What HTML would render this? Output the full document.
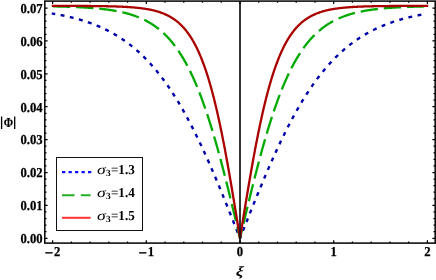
<!DOCTYPE html><html><head><meta charset="utf-8"><style>html,body{margin:0;padding:0;background:#fff}svg{will-change:transform;text-rendering:geometricPrecision}</style></head><body><svg width="436" height="280" viewBox="0 0 436 280" style="display:block">
<rect width="436" height="280" fill="#fff"/>
<g fill="none" stroke-linejoin="round">
<path d="M51.76,13.45 L52.38,13.56 L53.01,13.66 L53.64,13.76 L54.27,13.87 L54.89,13.98 L55.52,14.09 L56.15,14.20 L56.78,14.31 L57.40,14.43 L58.03,14.54 L58.66,14.66 L59.29,14.78 L59.91,14.90 L60.54,15.02 L61.17,15.14 L61.80,15.27 L62.42,15.40 L63.05,15.52 L63.68,15.65 L64.31,15.79 L64.93,15.92 L65.56,16.06 L66.19,16.19 L66.82,16.33 L67.44,16.47 L68.07,16.61 L68.70,16.76 L69.33,16.91 L69.95,17.05 L70.58,17.20 L71.21,17.36 L71.84,17.51 L72.46,17.67 L73.09,17.82 L73.72,17.98 L74.35,18.15 L74.97,18.31 L75.60,18.48 L76.23,18.65 L76.86,18.82 L77.48,18.99 L78.11,19.17 L78.74,19.34 L79.37,19.52 L79.99,19.71 L80.62,19.89 L81.25,20.08 L81.88,20.27 L82.50,20.46 L83.13,20.65 L83.76,20.85 L84.39,21.05 L85.01,21.25 L85.64,21.46 L86.27,21.66 L86.90,21.87 L87.52,22.09 L88.15,22.30 L88.78,22.52 L89.41,22.74 L90.03,22.96 L90.66,23.19 L91.29,23.42 L91.92,23.65 L92.54,23.89 L93.17,24.13 L93.80,24.37 L94.43,24.61 L95.05,24.86 L95.68,25.11 L96.31,25.36 L96.94,25.62 L97.56,25.88 L98.19,26.14 L98.82,26.41 L99.45,26.68 L100.07,26.95 L100.70,27.23 L101.33,27.51 L101.95,27.79 L102.58,28.08 L103.21,28.37 L103.84,28.67 L104.46,28.96 L105.09,29.27 L105.72,29.57 L106.35,29.88 L106.97,30.19 L107.60,30.51 L108.23,30.83 L108.86,31.16 L109.48,31.49 L110.11,31.82 L110.74,32.16 L111.37,32.50 L111.99,32.84 L112.62,33.19 L113.25,33.54 L113.88,33.90 L114.50,34.26 L115.13,34.63 L115.76,35.00 L116.39,35.38 L117.01,35.76 L117.64,36.14 L118.27,36.53 L118.90,36.92 L119.52,37.32 L120.15,37.73 L120.78,38.13 L121.41,38.55 L122.03,38.96 L122.66,39.39 L123.29,39.81 L123.92,40.25 L124.54,40.68 L125.17,41.13 L125.80,41.57 L126.43,42.03 L127.05,42.49 L127.68,42.95 L128.31,43.42 L128.94,43.89 L129.56,44.37 L130.19,44.86 L130.82,45.35 L131.45,45.84 L132.07,46.35 L132.70,46.85 L133.33,47.37 L133.96,47.89 L134.58,48.41 L135.21,48.94 L135.84,49.48 L136.47,50.02 L137.09,50.57 L137.72,51.13 L138.35,51.69 L138.98,52.26 L139.60,52.83 L140.23,53.41 L140.86,54.00 L141.49,54.59 L142.11,55.19 L142.74,55.79 L143.37,56.41 L144.00,57.02 L144.62,57.65 L145.25,58.28 L145.88,58.92 L146.51,59.57 L147.13,60.22 L147.76,60.88 L148.39,61.54 L149.02,62.22 L149.64,62.90 L150.27,63.58 L150.90,64.28 L151.53,64.98 L152.15,65.69 L152.78,66.40 L153.41,67.13 L154.04,67.86 L154.66,68.59 L155.29,69.34 L155.92,70.09 L156.55,70.85 L157.17,71.62 L157.80,72.39 L158.43,73.18 L159.06,73.97 L159.68,74.77 L160.31,75.57 L160.94,76.38 L161.57,77.21 L162.19,78.03 L162.82,78.87 L163.45,79.72 L164.08,80.57 L164.70,81.43 L165.33,82.30 L165.96,83.17 L166.59,84.06 L167.21,84.95 L167.84,85.85 L168.47,86.76 L169.10,87.68 L169.72,88.60 L170.35,89.54 L170.98,90.48 L171.60,91.43 L172.23,92.39 L172.86,93.35 L173.49,94.33 L174.11,95.31 L174.74,96.30 L175.37,97.30 L176.00,98.31 L176.62,99.32 L177.25,100.35 L177.88,101.38 L178.51,102.42 L179.13,103.47 L179.76,104.53 L180.39,105.59 L181.02,106.67 L181.64,107.75 L182.27,108.84 L182.90,109.94 L183.53,111.05 L184.15,112.16 L184.78,113.29 L185.41,114.42 L186.04,115.56 L186.66,116.71 L187.29,117.87 L187.92,119.03 L188.55,120.21 L189.17,121.39 L189.80,122.58 L190.43,123.78 L191.06,124.98 L191.68,126.20 L192.31,127.42 L192.94,128.65 L193.57,129.89 L194.19,131.14 L194.82,132.39 L195.45,133.65 L196.08,134.92 L196.70,136.20 L197.33,137.48 L197.96,138.78 L198.59,140.08 L199.21,141.39 L199.84,142.70 L200.47,144.02 L201.10,145.35 L201.72,146.69 L202.35,148.04 L202.98,149.39 L203.61,150.75 L204.23,152.11 L204.86,153.49 L205.49,154.87 L206.12,156.25 L206.74,157.65 L207.37,159.05 L208.00,160.45 L208.63,161.86 L209.25,163.28 L209.88,164.71 L210.51,166.14 L211.14,167.58 L211.76,169.02 L212.39,170.47 L213.02,171.93 L213.65,173.39 L214.27,174.85 L214.90,176.33 L215.53,177.80 L216.16,179.29 L216.78,180.77 L217.41,182.27 L218.04,183.77 L218.67,185.27 L219.29,186.78 L219.92,188.29 L220.55,189.80 L221.18,191.32 L221.80,192.85 L222.43,194.38 L223.06,195.91 L223.69,197.45 L224.31,198.99 L224.94,200.53 L225.57,202.08 L226.20,203.63 L226.82,205.19 L227.45,206.74 L228.08,208.30 L228.71,209.86 L229.33,211.43 L229.96,213.00 L230.59,214.57 L231.22,216.14 L231.84,217.71 L232.47,219.29 L233.10,220.87 L233.73,222.45 L234.35,224.03 L234.98,225.61 L235.61,227.19 L236.24,228.78 L236.86,230.36 L237.49,231.95 L238.12,233.54 L238.75,235.12 L239.37,236.71 L240.00,238.30" stroke="#0000aa" stroke-width="2.4" stroke-dasharray="3.9 5.5" stroke-dashoffset="0.4"/>
<path d="M240.00,238.30 L240.62,236.73 L241.24,235.15 L241.87,233.58 L242.49,232.00 L243.11,230.43 L243.73,228.86 L244.36,227.29 L244.98,225.72 L245.60,224.15 L246.22,222.58 L246.84,221.02 L247.47,219.45 L248.09,217.89 L248.71,216.33 L249.33,214.77 L249.95,213.21 L250.58,211.66 L251.20,210.10 L251.82,208.55 L252.44,207.01 L253.07,205.46 L253.69,203.92 L254.31,202.38 L254.93,200.85 L255.55,199.32 L256.18,197.79 L256.80,196.26 L257.42,194.74 L258.04,193.22 L258.67,191.71 L259.29,190.20 L259.91,188.70 L260.53,187.20 L261.15,185.70 L261.78,184.21 L262.40,182.72 L263.02,181.24 L263.64,179.76 L264.26,178.29 L264.89,176.83 L265.51,175.36 L266.13,173.91 L266.75,172.46 L267.38,171.01 L268.00,169.57 L268.62,168.14 L269.24,166.71 L269.86,165.29 L270.49,163.87 L271.11,162.46 L271.73,161.06 L272.35,159.66 L272.97,158.27 L273.60,156.89 L274.22,155.51 L274.84,154.14 L275.46,152.77 L276.09,151.42 L276.71,150.07 L277.33,148.72 L277.95,147.38 L278.57,146.06 L279.20,144.73 L279.82,143.42 L280.44,142.11 L281.06,140.81 L281.69,139.51 L282.31,138.23 L282.93,136.95 L283.55,135.68 L284.17,134.41 L284.80,133.16 L285.42,131.91 L286.04,130.67 L286.66,129.44 L287.28,128.21 L287.91,126.99 L288.53,125.78 L289.15,124.58 L289.77,123.39 L290.40,122.20 L291.02,121.03 L291.64,119.86 L292.26,118.70 L292.88,117.54 L293.51,116.40 L294.13,115.26 L294.75,114.13 L295.37,113.01 L296.00,111.90 L296.62,110.79 L297.24,109.70 L297.86,108.61 L298.48,107.53 L299.11,106.46 L299.73,105.39 L300.35,104.34 L300.97,103.29 L301.59,102.25 L302.22,101.22 L302.84,100.20 L303.46,99.18 L304.08,98.18 L304.71,97.18 L305.33,96.19 L305.95,95.21 L306.57,94.23 L307.19,93.27 L307.82,92.31 L308.44,91.36 L309.06,90.42 L309.68,89.49 L310.30,88.56 L310.93,87.65 L311.55,86.74 L312.17,85.84 L312.79,84.94 L313.42,84.06 L314.04,83.18 L314.66,82.31 L315.28,81.45 L315.90,80.60 L316.53,79.75 L317.15,78.91 L317.77,78.08 L318.39,77.26 L319.02,76.45 L319.64,75.64 L320.26,74.84 L320.88,74.05 L321.50,73.26 L322.13,72.49 L322.75,71.72 L323.37,70.95 L323.99,70.20 L324.61,69.45 L325.24,68.71 L325.86,67.98 L326.48,67.25 L327.10,66.54 L327.73,65.83 L328.35,65.12 L328.97,64.42 L329.59,63.73 L330.21,63.05 L330.84,62.38 L331.46,61.71 L332.08,61.04 L332.70,60.39 L333.33,59.74 L333.95,59.10 L334.57,58.46 L335.19,57.84 L335.81,57.21 L336.44,56.60 L337.06,55.99 L337.68,55.39 L338.30,54.79 L338.92,54.20 L339.55,53.62 L340.17,53.04 L340.79,52.47 L341.41,51.90 L342.04,51.34 L342.66,50.79 L343.28,50.24 L343.90,49.70 L344.52,49.17 L345.15,48.64 L345.77,48.12 L346.39,47.60 L347.01,47.09 L347.64,46.58 L348.26,46.08 L348.88,45.59 L349.50,45.10 L350.12,44.61 L350.75,44.13 L351.37,43.66 L351.99,43.19 L352.61,42.73 L353.23,42.27 L353.86,41.82 L354.48,41.38 L355.10,40.93 L355.72,40.50 L356.35,40.06 L356.97,39.64 L357.59,39.22 L358.21,38.80 L358.83,38.39 L359.46,37.98 L360.08,37.58 L360.70,37.18 L361.32,36.79 L361.94,36.40 L362.57,36.01 L363.19,35.63 L363.81,35.26 L364.43,34.89 L365.06,34.52 L365.68,34.16 L366.30,33.80 L366.92,33.45 L367.54,33.10 L368.17,32.75 L368.79,32.41 L369.41,32.07 L370.03,31.74 L370.66,31.41 L371.28,31.09 L371.90,30.77 L372.52,30.45 L373.14,30.14 L373.77,29.83 L374.39,29.52 L375.01,29.22 L375.63,28.92 L376.25,28.62 L376.88,28.33 L377.50,28.04 L378.12,27.76 L378.74,27.48 L379.37,27.20 L379.99,26.93 L380.61,26.66 L381.23,26.39 L381.85,26.12 L382.48,25.86 L383.10,25.61 L383.72,25.35 L384.34,25.10 L384.97,24.85 L385.59,24.61 L386.21,24.36 L386.83,24.13 L387.45,23.89 L388.08,23.66 L388.70,23.43 L389.32,23.20 L389.94,22.97 L390.56,22.75 L391.19,22.53 L391.81,22.32 L392.43,22.10 L393.05,21.89 L393.68,21.68 L394.30,21.48 L394.92,21.27 L395.54,21.07 L396.16,20.88 L396.79,20.68 L397.41,20.49 L398.03,20.30 L398.65,20.11 L399.28,19.92 L399.90,19.74 L400.52,19.56 L401.14,19.38 L401.76,19.20 L402.39,19.03 L403.01,18.86 L403.63,18.69 L404.25,18.52 L404.87,18.35 L405.50,18.19 L406.12,18.03 L406.74,17.87 L407.36,17.71 L407.99,17.55 L408.61,17.40 L409.23,17.25 L409.85,17.10 L410.47,16.95 L411.10,16.81 L411.72,16.66 L412.34,16.52 L412.96,16.38 L413.58,16.24 L414.21,16.11 L414.83,15.97 L415.45,15.84 L416.07,15.71 L416.70,15.58 L417.32,15.45 L417.94,15.32 L418.56,15.20 L419.18,15.07 L419.81,14.95 L420.43,14.83 L421.05,14.71 L421.67,14.60 L422.30,14.48 L422.92,14.37 L423.54,14.26 L424.16,14.15 L424.78,14.04 L425.41,13.93 L426.03,13.82 L426.65,13.72" stroke="#0000aa" stroke-width="2.4" stroke-dasharray="3.9 5.5" stroke-dashoffset="1.33"/>
<path d="M51.76,6.36 L52.38,6.37 L53.01,6.39 L53.64,6.40 L54.27,6.41 L54.89,6.42 L55.52,6.44 L56.15,6.45 L56.78,6.46 L57.40,6.48 L58.03,6.49 L58.66,6.51 L59.29,6.52 L59.91,6.54 L60.54,6.55 L61.17,6.57 L61.80,6.58 L62.42,6.60 L63.05,6.62 L63.68,6.63 L64.31,6.65 L64.93,6.67 L65.56,6.69 L66.19,6.71 L66.82,6.73 L67.44,6.75 L68.07,6.77 L68.70,6.79 L69.33,6.81 L69.95,6.83 L70.58,6.85 L71.21,6.88 L71.84,6.90 L72.46,6.92 L73.09,6.95 L73.72,6.97 L74.35,7.00 L74.97,7.02 L75.60,7.05 L76.23,7.08 L76.86,7.11 L77.48,7.14 L78.11,7.16 L78.74,7.19 L79.37,7.23 L79.99,7.26 L80.62,7.29 L81.25,7.32 L81.88,7.35 L82.50,7.39 L83.13,7.42 L83.76,7.46 L84.39,7.50 L85.01,7.53 L85.64,7.57 L86.27,7.61 L86.90,7.65 L87.52,7.69 L88.15,7.73 L88.78,7.78 L89.41,7.82 L90.03,7.87 L90.66,7.91 L91.29,7.96 L91.92,8.01 L92.54,8.06 L93.17,8.11 L93.80,8.16 L94.43,8.21 L95.05,8.27 L95.68,8.32 L96.31,8.38 L96.94,8.43 L97.56,8.49 L98.19,8.55 L98.82,8.62 L99.45,8.68 L100.07,8.74 L100.70,8.81 L101.33,8.88 L101.95,8.94 L102.58,9.02 L103.21,9.09 L103.84,9.16 L104.46,9.24 L105.09,9.31 L105.72,9.39 L106.35,9.47 L106.97,9.56 L107.60,9.64 L108.23,9.73 L108.86,9.81 L109.48,9.91 L110.11,10.00 L110.74,10.09 L111.37,10.19 L111.99,10.29 L112.62,10.39 L113.25,10.49 L113.88,10.60 L114.50,10.70 L115.13,10.82 L115.76,10.93 L116.39,11.04 L117.01,11.16 L117.64,11.28 L118.27,11.41 L118.90,11.53 L119.52,11.66 L120.15,11.79 L120.78,11.93 L121.41,12.06 L122.03,12.21 L122.66,12.35 L123.29,12.50 L123.92,12.65 L124.54,12.80 L125.17,12.96 L125.80,13.12 L126.43,13.28 L127.05,13.45 L127.68,13.62 L128.31,13.80 L128.94,13.98 L129.56,14.16 L130.19,14.35 L130.82,14.54 L131.45,14.74 L132.07,14.94 L132.70,15.14 L133.33,15.35 L133.96,15.57 L134.58,15.79 L135.21,16.01 L135.84,16.24 L136.47,16.47 L137.09,16.71 L137.72,16.95 L138.35,17.20 L138.98,17.46 L139.60,17.72 L140.23,17.98 L140.86,18.26 L141.49,18.53 L142.11,18.82 L142.74,19.11 L143.37,19.40 L144.00,19.71 L144.62,20.02 L145.25,20.33 L145.88,20.65 L146.51,20.98 L147.13,21.32 L147.76,21.66 L148.39,22.02 L149.02,22.37 L149.64,22.74 L150.27,23.12 L150.90,23.50 L151.53,23.89 L152.15,24.29 L152.78,24.69 L153.41,25.11 L154.04,25.53 L154.66,25.97 L155.29,26.41 L155.92,26.86 L156.55,27.32 L157.17,27.79 L157.80,28.27 L158.43,28.77 L159.06,29.27 L159.68,29.78 L160.31,30.30 L160.94,30.83 L161.57,31.38 L162.19,31.93 L162.82,32.50 L163.45,33.07 L164.08,33.66 L164.70,34.26 L165.33,34.88 L165.96,35.50 L166.59,36.14 L167.21,36.79 L167.84,37.46 L168.47,38.13 L169.10,38.82 L169.72,39.53 L170.35,40.25 L170.98,40.98 L171.60,41.72 L172.23,42.49 L172.86,43.26 L173.49,44.05 L174.11,44.86 L174.74,45.68 L175.37,46.52 L176.00,47.37 L176.62,48.24 L177.25,49.12 L177.88,50.02 L178.51,50.94 L179.13,51.88 L179.76,52.83 L180.39,53.80 L181.02,54.79 L181.64,55.79 L182.27,56.82 L182.90,57.86 L183.53,58.92 L184.15,60.00 L184.78,61.10 L185.41,62.22 L186.04,63.35 L186.66,64.51 L187.29,65.69 L187.92,66.88 L188.55,68.10 L189.17,69.34 L189.80,70.60 L190.43,71.88 L191.06,73.18 L191.68,74.50 L192.31,75.84 L192.94,77.21 L193.57,78.59 L194.19,80.00 L194.82,81.43 L195.45,82.88 L196.08,84.36 L196.70,85.85 L197.33,87.37 L197.96,88.91 L198.59,90.48 L199.21,92.07 L199.84,93.68 L200.47,95.31 L201.10,96.96 L201.72,98.64 L202.35,100.35 L202.98,102.07 L203.61,103.82 L204.23,105.59 L204.86,107.39 L205.49,109.21 L206.12,111.05 L206.74,112.91 L207.37,114.80 L208.00,116.71 L208.63,118.64 L209.25,120.60 L209.88,122.58 L210.51,124.58 L211.14,126.61 L211.76,128.65 L212.39,130.72 L213.02,132.81 L213.65,134.92 L214.27,137.06 L214.90,139.21 L215.53,141.39 L216.16,143.58 L216.78,145.80 L217.41,148.04 L218.04,150.29 L218.67,152.57 L219.29,154.87 L219.92,157.18 L220.55,159.51 L221.18,161.86 L221.80,164.23 L222.43,166.62 L223.06,169.02 L223.69,171.44 L224.31,173.88 L224.94,176.33 L225.57,178.79 L226.20,181.27 L226.82,183.77 L227.45,186.27 L228.08,188.79 L228.71,191.32 L229.33,193.87 L229.96,196.42 L230.59,198.99 L231.22,201.56 L231.84,204.15 L232.47,206.74 L233.10,209.34 L233.73,211.95 L234.35,214.57 L234.98,217.19 L235.61,219.82 L236.24,222.45 L236.86,225.08 L237.49,227.72 L238.12,230.36 L238.75,233.01 L239.37,235.65 L240.00,238.30" stroke="#00aa00" stroke-width="2.3" stroke-dasharray="17.4 5.9" stroke-dashoffset="-1"/>
<path d="M240.00,238.30 L240.63,235.65 L241.25,233.01 L241.88,230.36 L242.51,227.72 L243.14,225.08 L243.76,222.45 L244.39,219.82 L245.02,217.19 L245.65,214.57 L246.27,211.95 L246.90,209.34 L247.53,206.74 L248.16,204.15 L248.78,201.56 L249.41,198.99 L250.04,196.42 L250.67,193.87 L251.29,191.32 L251.92,188.79 L252.55,186.27 L253.18,183.77 L253.80,181.27 L254.43,178.79 L255.06,176.33 L255.69,173.88 L256.31,171.44 L256.94,169.02 L257.57,166.62 L258.20,164.23 L258.82,161.86 L259.45,159.51 L260.08,157.18 L260.71,154.87 L261.33,152.57 L261.96,150.29 L262.59,148.04 L263.22,145.80 L263.84,143.58 L264.47,141.39 L265.10,139.21 L265.73,137.06 L266.35,134.92 L266.98,132.81 L267.61,130.72 L268.24,128.65 L268.86,126.61 L269.49,124.58 L270.12,122.58 L270.75,120.60 L271.37,118.64 L272.00,116.71 L272.63,114.80 L273.26,112.91 L273.88,111.05 L274.51,109.21 L275.14,107.39 L275.77,105.59 L276.39,103.82 L277.02,102.07 L277.65,100.35 L278.28,98.64 L278.90,96.96 L279.53,95.31 L280.16,93.68 L280.79,92.07 L281.41,90.48 L282.04,88.91 L282.67,87.37 L283.30,85.85 L283.92,84.36 L284.55,82.88 L285.18,81.43 L285.81,80.00 L286.43,78.59 L287.06,77.21 L287.69,75.84 L288.32,74.50 L288.94,73.18 L289.57,71.88 L290.20,70.60 L290.83,69.34 L291.45,68.10 L292.08,66.88 L292.71,65.69 L293.34,64.51 L293.96,63.35 L294.59,62.22 L295.22,61.10 L295.85,60.00 L296.47,58.92 L297.10,57.86 L297.73,56.82 L298.36,55.79 L298.98,54.79 L299.61,53.80 L300.24,52.83 L300.87,51.88 L301.49,50.94 L302.12,50.02 L302.75,49.12 L303.38,48.24 L304.00,47.37 L304.63,46.52 L305.26,45.68 L305.89,44.86 L306.51,44.05 L307.14,43.26 L307.77,42.49 L308.40,41.72 L309.02,40.98 L309.65,40.25 L310.28,39.53 L310.90,38.82 L311.53,38.13 L312.16,37.46 L312.79,36.79 L313.41,36.14 L314.04,35.50 L314.67,34.88 L315.30,34.26 L315.92,33.66 L316.55,33.07 L317.18,32.50 L317.81,31.93 L318.43,31.38 L319.06,30.83 L319.69,30.30 L320.32,29.78 L320.94,29.27 L321.57,28.77 L322.20,28.27 L322.83,27.79 L323.45,27.32 L324.08,26.86 L324.71,26.41 L325.34,25.97 L325.96,25.53 L326.59,25.11 L327.22,24.69 L327.85,24.29 L328.47,23.89 L329.10,23.50 L329.73,23.12 L330.36,22.74 L330.98,22.37 L331.61,22.02 L332.24,21.66 L332.87,21.32 L333.49,20.98 L334.12,20.65 L334.75,20.33 L335.38,20.02 L336.00,19.71 L336.63,19.40 L337.26,19.11 L337.89,18.82 L338.51,18.53 L339.14,18.26 L339.77,17.98 L340.40,17.72 L341.02,17.46 L341.65,17.20 L342.28,16.95 L342.91,16.71 L343.53,16.47 L344.16,16.24 L344.79,16.01 L345.42,15.79 L346.04,15.57 L346.67,15.35 L347.30,15.14 L347.93,14.94 L348.55,14.74 L349.18,14.54 L349.81,14.35 L350.44,14.16 L351.06,13.98 L351.69,13.80 L352.32,13.62 L352.95,13.45 L353.57,13.28 L354.20,13.12 L354.83,12.96 L355.46,12.80 L356.08,12.65 L356.71,12.50 L357.34,12.35 L357.97,12.21 L358.59,12.06 L359.22,11.93 L359.85,11.79 L360.48,11.66 L361.10,11.53 L361.73,11.41 L362.36,11.28 L362.99,11.16 L363.61,11.04 L364.24,10.93 L364.87,10.82 L365.50,10.70 L366.12,10.60 L366.75,10.49 L367.38,10.39 L368.01,10.29 L368.63,10.19 L369.26,10.09 L369.89,10.00 L370.52,9.91 L371.14,9.81 L371.77,9.73 L372.40,9.64 L373.03,9.56 L373.65,9.47 L374.28,9.39 L374.91,9.31 L375.54,9.24 L376.16,9.16 L376.79,9.09 L377.42,9.02 L378.05,8.94 L378.67,8.88 L379.30,8.81 L379.93,8.74 L380.55,8.68 L381.18,8.62 L381.81,8.55 L382.44,8.49 L383.06,8.43 L383.69,8.38 L384.32,8.32 L384.95,8.27 L385.57,8.21 L386.20,8.16 L386.83,8.11 L387.46,8.06 L388.08,8.01 L388.71,7.96 L389.34,7.91 L389.97,7.87 L390.59,7.82 L391.22,7.78 L391.85,7.73 L392.48,7.69 L393.10,7.65 L393.73,7.61 L394.36,7.57 L394.99,7.53 L395.61,7.50 L396.24,7.46 L396.87,7.42 L397.50,7.39 L398.12,7.35 L398.75,7.32 L399.38,7.29 L400.01,7.26 L400.63,7.23 L401.26,7.19 L401.89,7.16 L402.52,7.14 L403.14,7.11 L403.77,7.08 L404.40,7.05 L405.03,7.02 L405.65,7.00 L406.28,6.97 L406.91,6.95 L407.54,6.92 L408.16,6.90 L408.79,6.88 L409.42,6.85 L410.05,6.83 L410.67,6.81 L411.30,6.79 L411.93,6.77 L412.56,6.75 L413.18,6.73 L413.81,6.71 L414.44,6.69 L415.07,6.67 L415.69,6.65 L416.32,6.63 L416.95,6.62 L417.58,6.60 L418.20,6.58 L418.83,6.57 L419.46,6.55 L420.09,6.54 L420.71,6.52 L421.34,6.51 L421.97,6.49 L422.60,6.48 L423.22,6.46 L423.85,6.45 L424.48,6.44 L425.11,6.42 L425.73,6.41 L426.36,6.40 L426.99,6.39 L427.62,6.37 L428.24,6.36" stroke="#00aa00" stroke-width="2.3" stroke-dasharray="17.4 5.9" stroke-dashoffset="8.37"/>
<path d="M51.76,5.88 L52.38,5.88 L53.01,5.88 L53.64,5.88 L54.27,5.88 L54.89,5.89 L55.52,5.89 L56.15,5.89 L56.78,5.89 L57.40,5.89 L58.03,5.89 L58.66,5.89 L59.29,5.89 L59.91,5.89 L60.54,5.89 L61.17,5.89 L61.80,5.90 L62.42,5.90 L63.05,5.90 L63.68,5.90 L64.31,5.90 L64.93,5.90 L65.56,5.90 L66.19,5.91 L66.82,5.91 L67.44,5.91 L68.07,5.91 L68.70,5.91 L69.33,5.91 L69.95,5.91 L70.58,5.92 L71.21,5.92 L71.84,5.92 L72.46,5.92 L73.09,5.92 L73.72,5.93 L74.35,5.93 L74.97,5.93 L75.60,5.93 L76.23,5.94 L76.86,5.94 L77.48,5.94 L78.11,5.94 L78.74,5.95 L79.37,5.95 L79.99,5.95 L80.62,5.96 L81.25,5.96 L81.88,5.96 L82.50,5.97 L83.13,5.97 L83.76,5.97 L84.39,5.98 L85.01,5.98 L85.64,5.98 L86.27,5.99 L86.90,5.99 L87.52,6.00 L88.15,6.00 L88.78,6.01 L89.41,6.01 L90.03,6.02 L90.66,6.02 L91.29,6.03 L91.92,6.03 L92.54,6.04 L93.17,6.05 L93.80,6.05 L94.43,6.06 L95.05,6.06 L95.68,6.07 L96.31,6.08 L96.94,6.09 L97.56,6.09 L98.19,6.10 L98.82,6.11 L99.45,6.12 L100.07,6.13 L100.70,6.14 L101.33,6.15 L101.95,6.16 L102.58,6.17 L103.21,6.18 L103.84,6.19 L104.46,6.20 L105.09,6.21 L105.72,6.22 L106.35,6.23 L106.97,6.25 L107.60,6.26 L108.23,6.27 L108.86,6.29 L109.48,6.30 L110.11,6.32 L110.74,6.33 L111.37,6.35 L111.99,6.36 L112.62,6.38 L113.25,6.40 L113.88,6.42 L114.50,6.43 L115.13,6.45 L115.76,6.47 L116.39,6.50 L117.01,6.52 L117.64,6.54 L118.27,6.56 L118.90,6.59 L119.52,6.61 L120.15,6.64 L120.78,6.66 L121.41,6.69 L122.03,6.72 L122.66,6.75 L123.29,6.78 L123.92,6.81 L124.54,6.84 L125.17,6.87 L125.80,6.91 L126.43,6.94 L127.05,6.98 L127.68,7.02 L128.31,7.06 L128.94,7.10 L129.56,7.14 L130.19,7.18 L130.82,7.23 L131.45,7.28 L132.07,7.32 L132.70,7.37 L133.33,7.42 L133.96,7.48 L134.58,7.53 L135.21,7.59 L135.84,7.65 L136.47,7.71 L137.09,7.77 L137.72,7.83 L138.35,7.90 L138.98,7.97 L139.60,8.04 L140.23,8.12 L140.86,8.19 L141.49,8.27 L142.11,8.35 L142.74,8.44 L143.37,8.52 L144.00,8.62 L144.62,8.71 L145.25,8.80 L145.88,8.90 L146.51,9.01 L147.13,9.11 L147.76,9.22 L148.39,9.34 L149.02,9.45 L149.64,9.58 L150.27,9.70 L150.90,9.83 L151.53,9.96 L152.15,10.10 L152.78,10.25 L153.41,10.39 L154.04,10.55 L154.66,10.70 L155.29,10.87 L155.92,11.04 L156.55,11.21 L157.17,11.39 L157.80,11.58 L158.43,11.77 L159.06,11.97 L159.68,12.17 L160.31,12.38 L160.94,12.60 L161.57,12.83 L162.19,13.06 L162.82,13.30 L163.45,13.55 L164.08,13.81 L164.70,14.08 L165.33,14.35 L165.96,14.63 L166.59,14.93 L167.21,15.23 L167.84,15.54 L168.47,15.86 L169.10,16.20 L169.72,16.54 L170.35,16.90 L170.98,17.26 L171.60,17.64 L172.23,18.03 L172.86,18.44 L173.49,18.85 L174.11,19.28 L174.74,19.72 L175.37,20.18 L176.00,20.65 L176.62,21.14 L177.25,21.64 L177.88,22.16 L178.51,22.70 L179.13,23.25 L179.76,23.82 L180.39,24.41 L181.02,25.01 L181.64,25.64 L182.27,26.28 L182.90,26.94 L183.53,27.63 L184.15,28.33 L184.78,29.06 L185.41,29.81 L186.04,30.58 L186.66,31.38 L187.29,32.20 L187.92,33.04 L188.55,33.91 L189.17,34.80 L189.80,35.73 L190.43,36.68 L191.06,37.65 L191.68,38.66 L192.31,39.70 L192.94,40.76 L193.57,41.86 L194.19,42.99 L194.82,44.15 L195.45,45.34 L196.08,46.56 L196.70,47.83 L197.33,49.12 L197.96,50.45 L198.59,51.82 L199.21,53.23 L199.84,54.67 L200.47,56.15 L201.10,57.67 L201.72,59.24 L202.35,60.84 L202.98,62.48 L203.61,64.17 L204.23,65.90 L204.86,67.67 L205.49,69.49 L206.12,71.35 L206.74,73.25 L207.37,75.21 L208.00,77.21 L208.63,79.25 L209.25,81.34 L209.88,83.49 L210.51,85.67 L211.14,87.91 L211.76,90.20 L212.39,92.54 L213.02,94.92 L213.65,97.36 L214.27,99.84 L214.90,102.38 L215.53,104.96 L216.16,107.60 L216.78,110.29 L217.41,113.02 L218.04,115.81 L218.67,118.64 L219.29,121.53 L219.92,124.46 L220.55,127.45 L221.18,130.48 L221.80,133.55 L222.43,136.68 L223.06,139.85 L223.69,143.06 L224.31,146.32 L224.94,149.63 L225.57,152.97 L226.20,156.36 L226.82,159.79 L227.45,163.26 L228.08,166.76 L228.71,170.30 L229.33,173.88 L229.96,177.49 L230.59,181.13 L231.22,184.80 L231.84,188.50 L232.47,192.22 L233.10,195.97 L233.73,199.75 L234.35,203.54 L234.98,207.35 L235.61,211.18 L236.24,215.03 L236.86,218.89 L237.49,222.76 L238.12,226.64 L238.75,230.52 L239.37,234.41 L240.00,238.30 L240.63,234.41 L241.25,230.52 L241.88,226.64 L242.51,222.76 L243.14,218.89 L243.76,215.03 L244.39,211.18 L245.02,207.35 L245.65,203.54 L246.27,199.75 L246.90,195.97 L247.53,192.22 L248.16,188.50 L248.78,184.80 L249.41,181.13 L250.04,177.49 L250.67,173.88 L251.29,170.30 L251.92,166.76 L252.55,163.26 L253.18,159.79 L253.80,156.36 L254.43,152.97 L255.06,149.63 L255.69,146.32 L256.31,143.06 L256.94,139.85 L257.57,136.68 L258.20,133.55 L258.82,130.48 L259.45,127.45 L260.08,124.46 L260.71,121.53 L261.33,118.64 L261.96,115.81 L262.59,113.02 L263.22,110.29 L263.84,107.60 L264.47,104.96 L265.10,102.38 L265.73,99.84 L266.35,97.36 L266.98,94.92 L267.61,92.54 L268.24,90.20 L268.86,87.91 L269.49,85.67 L270.12,83.49 L270.75,81.34 L271.37,79.25 L272.00,77.21 L272.63,75.21 L273.26,73.25 L273.88,71.35 L274.51,69.49 L275.14,67.67 L275.77,65.90 L276.39,64.17 L277.02,62.48 L277.65,60.84 L278.28,59.24 L278.90,57.67 L279.53,56.15 L280.16,54.67 L280.79,53.23 L281.41,51.82 L282.04,50.45 L282.67,49.12 L283.30,47.83 L283.92,46.56 L284.55,45.34 L285.18,44.15 L285.81,42.99 L286.43,41.86 L287.06,40.76 L287.69,39.70 L288.32,38.66 L288.94,37.65 L289.57,36.68 L290.20,35.73 L290.83,34.80 L291.45,33.91 L292.08,33.04 L292.71,32.20 L293.34,31.38 L293.96,30.58 L294.59,29.81 L295.22,29.06 L295.85,28.33 L296.47,27.63 L297.10,26.94 L297.73,26.28 L298.36,25.64 L298.98,25.01 L299.61,24.41 L300.24,23.82 L300.87,23.25 L301.49,22.70 L302.12,22.16 L302.75,21.64 L303.38,21.14 L304.00,20.65 L304.63,20.18 L305.26,19.72 L305.89,19.28 L306.51,18.85 L307.14,18.44 L307.77,18.03 L308.40,17.64 L309.02,17.26 L309.65,16.90 L310.28,16.54 L310.90,16.20 L311.53,15.86 L312.16,15.54 L312.79,15.23 L313.41,14.93 L314.04,14.63 L314.67,14.35 L315.30,14.08 L315.92,13.81 L316.55,13.55 L317.18,13.30 L317.81,13.06 L318.43,12.83 L319.06,12.60 L319.69,12.38 L320.32,12.17 L320.94,11.97 L321.57,11.77 L322.20,11.58 L322.83,11.39 L323.45,11.21 L324.08,11.04 L324.71,10.87 L325.34,10.70 L325.96,10.55 L326.59,10.39 L327.22,10.25 L327.85,10.10 L328.47,9.96 L329.10,9.83 L329.73,9.70 L330.36,9.58 L330.98,9.45 L331.61,9.34 L332.24,9.22 L332.87,9.11 L333.49,9.01 L334.12,8.90 L334.75,8.80 L335.38,8.71 L336.00,8.62 L336.63,8.52 L337.26,8.44 L337.89,8.35 L338.51,8.27 L339.14,8.19 L339.77,8.12 L340.40,8.04 L341.02,7.97 L341.65,7.90 L342.28,7.83 L342.91,7.77 L343.53,7.71 L344.16,7.65 L344.79,7.59 L345.42,7.53 L346.04,7.48 L346.67,7.42 L347.30,7.37 L347.93,7.32 L348.55,7.28 L349.18,7.23 L349.81,7.18 L350.44,7.14 L351.06,7.10 L351.69,7.06 L352.32,7.02 L352.95,6.98 L353.57,6.94 L354.20,6.91 L354.83,6.87 L355.46,6.84 L356.08,6.81 L356.71,6.78 L357.34,6.75 L357.97,6.72 L358.59,6.69 L359.22,6.66 L359.85,6.64 L360.48,6.61 L361.10,6.59 L361.73,6.56 L362.36,6.54 L362.99,6.52 L363.61,6.50 L364.24,6.47 L364.87,6.45 L365.50,6.43 L366.12,6.42 L366.75,6.40 L367.38,6.38 L368.01,6.36 L368.63,6.35 L369.26,6.33 L369.89,6.32 L370.52,6.30 L371.14,6.29 L371.77,6.27 L372.40,6.26 L373.03,6.25 L373.65,6.23 L374.28,6.22 L374.91,6.21 L375.54,6.20 L376.16,6.19 L376.79,6.18 L377.42,6.17 L378.05,6.16 L378.67,6.15 L379.30,6.14 L379.93,6.13 L380.55,6.12 L381.18,6.11 L381.81,6.10 L382.44,6.09 L383.06,6.09 L383.69,6.08 L384.32,6.07 L384.95,6.06 L385.57,6.06 L386.20,6.05 L386.83,6.05 L387.46,6.04 L388.08,6.03 L388.71,6.03 L389.34,6.02 L389.97,6.02 L390.59,6.01 L391.22,6.01 L391.85,6.00 L392.48,6.00 L393.10,5.99 L393.73,5.99 L394.36,5.98 L394.99,5.98 L395.61,5.98 L396.24,5.97 L396.87,5.97 L397.50,5.97 L398.12,5.96 L398.75,5.96 L399.38,5.96 L400.01,5.95 L400.63,5.95 L401.26,5.95 L401.89,5.94 L402.52,5.94 L403.14,5.94 L403.77,5.94 L404.40,5.93 L405.03,5.93 L405.65,5.93 L406.28,5.93 L406.91,5.92 L407.54,5.92 L408.16,5.92 L408.79,5.92 L409.42,5.92 L410.05,5.91 L410.67,5.91 L411.30,5.91 L411.93,5.91 L412.56,5.91 L413.18,5.91 L413.81,5.91 L414.44,5.90 L415.07,5.90 L415.69,5.90 L416.32,5.90 L416.95,5.90 L417.58,5.90 L418.20,5.90 L418.83,5.89 L419.46,5.89 L420.09,5.89 L420.71,5.89 L421.34,5.89 L421.97,5.89 L422.60,5.89 L423.22,5.89 L423.85,5.89 L424.48,5.89 L425.11,5.89 L425.73,5.88 L426.36,5.88 L426.99,5.88 L427.62,5.88 L428.24,5.88" stroke="#aa0000" stroke-width="2.3"/>
</g>
<line x1="240" y1="1.1" x2="240" y2="243.1" stroke="#111" stroke-width="1.7"/>
<rect x="44.8" y="1.1" width="390.4" height="242.0" fill="none" stroke="#111" stroke-width="1.6"/>
<path d="M52.60,243.1 v-2.8 M52.60,1.1 v2.8 M71.34,243.1 v-1.7 M71.34,1.1 v1.7 M90.08,243.1 v-1.7 M90.08,1.1 v1.7 M108.82,243.1 v-1.7 M108.82,1.1 v1.7 M127.56,243.1 v-1.7 M127.56,1.1 v1.7 M146.30,243.1 v-2.8 M146.30,1.1 v2.8 M165.04,243.1 v-1.7 M165.04,1.1 v1.7 M183.78,243.1 v-1.7 M183.78,1.1 v1.7 M202.52,243.1 v-1.7 M202.52,1.1 v1.7 M221.26,243.1 v-1.7 M221.26,1.1 v1.7 M240.00,243.1 v-2.8 M240.00,1.1 v2.8 M258.74,243.1 v-1.7 M258.74,1.1 v1.7 M277.48,243.1 v-1.7 M277.48,1.1 v1.7 M296.22,243.1 v-1.7 M296.22,1.1 v1.7 M314.96,243.1 v-1.7 M314.96,1.1 v1.7 M333.70,243.1 v-2.8 M333.70,1.1 v2.8 M352.44,243.1 v-1.7 M352.44,1.1 v1.7 M371.18,243.1 v-1.7 M371.18,1.1 v1.7 M389.92,243.1 v-1.7 M389.92,1.1 v1.7 M408.66,243.1 v-1.7 M408.66,1.1 v1.7 M427.40,243.1 v-2.8 M427.40,1.1 v2.8 M44.8,238.30 h2.8 M435.2,238.30 h-2.8 M44.8,231.72 h1.7 M435.2,231.72 h-1.7 M44.8,225.14 h1.7 M435.2,225.14 h-1.7 M44.8,218.56 h1.7 M435.2,218.56 h-1.7 M44.8,211.98 h1.7 M435.2,211.98 h-1.7 M44.8,205.40 h2.8 M435.2,205.40 h-2.8 M44.8,198.82 h1.7 M435.2,198.82 h-1.7 M44.8,192.24 h1.7 M435.2,192.24 h-1.7 M44.8,185.66 h1.7 M435.2,185.66 h-1.7 M44.8,179.08 h1.7 M435.2,179.08 h-1.7 M44.8,172.50 h2.8 M435.2,172.50 h-2.8 M44.8,165.92 h1.7 M435.2,165.92 h-1.7 M44.8,159.34 h1.7 M435.2,159.34 h-1.7 M44.8,152.76 h1.7 M435.2,152.76 h-1.7 M44.8,146.18 h1.7 M435.2,146.18 h-1.7 M44.8,139.60 h2.8 M435.2,139.60 h-2.8 M44.8,133.02 h1.7 M435.2,133.02 h-1.7 M44.8,126.44 h1.7 M435.2,126.44 h-1.7 M44.8,119.86 h1.7 M435.2,119.86 h-1.7 M44.8,113.28 h1.7 M435.2,113.28 h-1.7 M44.8,106.70 h2.8 M435.2,106.70 h-2.8 M44.8,100.12 h1.7 M435.2,100.12 h-1.7 M44.8,93.54 h1.7 M435.2,93.54 h-1.7 M44.8,86.96 h1.7 M435.2,86.96 h-1.7 M44.8,80.38 h1.7 M435.2,80.38 h-1.7 M44.8,73.80 h2.8 M435.2,73.80 h-2.8 M44.8,67.22 h1.7 M435.2,67.22 h-1.7 M44.8,60.64 h1.7 M435.2,60.64 h-1.7 M44.8,54.06 h1.7 M435.2,54.06 h-1.7 M44.8,47.48 h1.7 M435.2,47.48 h-1.7 M44.8,40.90 h2.8 M435.2,40.90 h-2.8 M44.8,34.32 h1.7 M435.2,34.32 h-1.7 M44.8,27.74 h1.7 M435.2,27.74 h-1.7 M44.8,21.16 h1.7 M435.2,21.16 h-1.7 M44.8,14.58 h1.7 M435.2,14.58 h-1.7 M44.8,8.00 h2.8 M435.2,8.00 h-2.8" stroke="#000" stroke-width="1.25" fill="none"/>
<g font-family="Liberation Serif, serif" font-weight="bold" font-size="13.6" fill="#000" stroke="#000" stroke-width="0.25">
<text transform="translate(42.7,243.1) scale(0.932,1)" text-anchor="end">0.00</text>
<text transform="translate(42.7,210.2) scale(0.932,1)" text-anchor="end">0.01</text>
<text transform="translate(42.7,177.3) scale(0.932,1)" text-anchor="end">0.02</text>
<text transform="translate(42.7,144.4) scale(0.932,1)" text-anchor="end">0.03</text>
<text transform="translate(42.7,111.5) scale(0.932,1)" text-anchor="end">0.04</text>
<text transform="translate(42.7,78.6) scale(0.932,1)" text-anchor="end">0.05</text>
<text transform="translate(42.7,45.7) scale(0.932,1)" text-anchor="end">0.06</text>
<text transform="translate(42.7,12.8) scale(0.932,1)" text-anchor="end">0.07</text>
<text transform="translate(57.2,256.0) scale(0.932,1)" text-anchor="middle">2</text>
<rect x="45.6" y="252.2" width="6.9" height="1.2" fill="#000"/>
<text transform="translate(150.9,256.0) scale(0.932,1)" text-anchor="middle">1</text>
<rect x="139.3" y="252.2" width="6.9" height="1.2" fill="#000"/>
<text transform="translate(240.0,256.0) scale(0.932,1)" text-anchor="middle">0</text>
<text transform="translate(333.7,256.0) scale(0.932,1)" text-anchor="middle">1</text>
<text transform="translate(427.4,256.0) scale(0.932,1)" text-anchor="middle">2</text>
<text transform="translate(8.4,126.8) scale(0.83,1)" text-anchor="middle" stroke="#000" stroke-width="0.1">Φ</text>
<path d="M1.6,116.6 V129 M14.7,116.6 V129" stroke="#000" stroke-width="1.3" fill="none"/>
</g>
<text transform="translate(239.2,276.2) skewX(-8) scale(1.2,1)" text-anchor="middle" font-family="Liberation Serif, serif" font-style="italic" font-weight="bold" font-size="14">ξ</text>
<rect x="56.5" y="157.5" width="86" height="73" fill="#fff" stroke="#111" stroke-width="1"/>
<line x1="62" y1="172.1" x2="91.5" y2="172.1" stroke="#1010ff" stroke-width="2.2" stroke-dasharray="3.3 3.2"/>
<path d="M62,195.2 H74.5 M80.8,195.2 H90.6" stroke="#22b022" stroke-width="2" fill="none"/>
<line x1="62" y1="217.8" x2="90.6" y2="217.8" stroke="#ff3030" stroke-width="2"/>
<g font-family="Liberation Serif, serif" fill="#000">
<text transform="translate(96.9,174.2) scale(1.3,1)" font-style="italic" font-size="13.6">σ</text>
<text x="105.9" y="176.0" font-weight="bold" font-size="9.5">3</text>
<text transform="translate(110.9,174.2) scale(0.965,1)" font-weight="bold" font-size="13.6">=1.3</text>
</g>
<g font-family="Liberation Serif, serif" fill="#000">
<text transform="translate(96.9,197.0) scale(1.3,1)" font-style="italic" font-size="13.6">σ</text>
<text x="105.9" y="198.8" font-weight="bold" font-size="9.5">3</text>
<text transform="translate(110.9,197.0) scale(0.965,1)" font-weight="bold" font-size="13.6">=1.4</text>
</g>
<g font-family="Liberation Serif, serif" fill="#000">
<text transform="translate(96.9,219.9) scale(1.3,1)" font-style="italic" font-size="13.6">σ</text>
<text x="105.9" y="221.7" font-weight="bold" font-size="9.5">3</text>
<text transform="translate(110.9,219.9) scale(0.965,1)" font-weight="bold" font-size="13.6">=1.5</text>
</g>
</svg></body></html>
